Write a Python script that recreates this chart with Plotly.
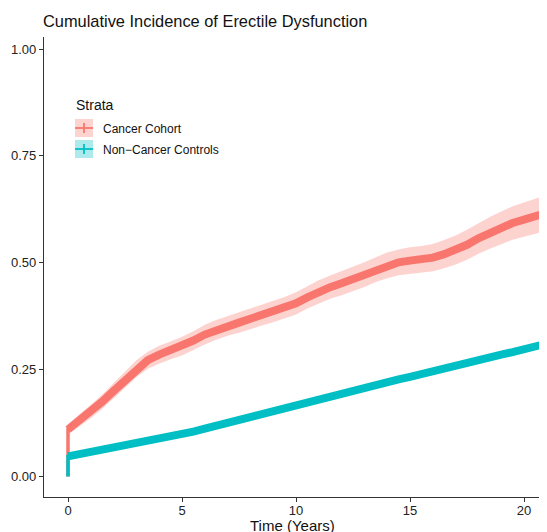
import plotly.graph_objects as go

# ---- data ----
time_years = [0.0, 0.5, 1.0, 1.5, 2.0, 2.5, 3.0, 3.5, 4.0, 4.5, 5.0, 5.5, 6.0, 6.5, 7.0,
              7.5, 8.0, 8.5, 9.0, 9.5, 10.0, 10.5, 11.0, 11.5, 12.0, 12.5, 13.0, 13.5,
              14.0, 14.5, 15.0, 15.5, 16.0, 16.5, 17.0, 17.5, 18.0, 18.5, 19.0, 19.5,
              20.0, 20.5, 21.0]

cancer_ci = [0.110, 0.130, 0.152, 0.175, 0.200, 0.225, 0.252, 0.272, 0.285, 0.295, 0.305,
             0.318, 0.332, 0.343, 0.352, 0.360, 0.369, 0.378, 0.386, 0.395, 0.405, 0.419,
             0.432, 0.443, 0.452, 0.462, 0.472, 0.484, 0.494, 0.501, 0.505, 0.508, 0.512,
             0.520, 0.530, 0.542, 0.557, 0.570, 0.582, 0.593, 0.601, 0.609, 0.617]
cancer_lower = [0.098, 0.116, 0.136, 0.158, 0.182, 0.206, 0.232, 0.252, 0.264, 0.274, 0.283,
                0.296, 0.309, 0.320, 0.329, 0.336, 0.345, 0.353, 0.361, 0.370, 0.379, 0.393,
                0.405, 0.416, 0.424, 0.434, 0.443, 0.455, 0.464, 0.471, 0.474, 0.477, 0.480,
                0.487, 0.496, 0.507, 0.521, 0.533, 0.544, 0.554, 0.561, 0.568, 0.575]
cancer_upper = [0.122, 0.144, 0.168, 0.192, 0.218, 0.244, 0.272, 0.292, 0.306, 0.316, 0.327,
                0.340, 0.355, 0.366, 0.375, 0.384, 0.393, 0.403, 0.411, 0.420, 0.431, 0.445,
                0.459, 0.470, 0.480, 0.490, 0.501, 0.513, 0.524, 0.531, 0.536, 0.539, 0.544,
                0.553, 0.564, 0.577, 0.593, 0.607, 0.620, 0.632, 0.641, 0.650, 0.659]

control_ci = [0.047, 0.052, 0.057, 0.063, 0.068, 0.074, 0.079, 0.084, 0.089, 0.094, 0.099,
              0.105, 0.112, 0.119, 0.125, 0.132, 0.139, 0.146, 0.152, 0.159, 0.166, 0.172,
              0.179, 0.186, 0.193, 0.201, 0.207, 0.214, 0.220, 0.227, 0.233, 0.240, 0.246,
              0.253, 0.259, 0.266, 0.272, 0.279, 0.285, 0.291, 0.297, 0.304, 0.311]
control_lower = [0.044, 0.049, 0.054, 0.060, 0.065, 0.071, 0.076, 0.080, 0.085, 0.090, 0.095,
                 0.101, 0.108, 0.115, 0.121, 0.128, 0.135, 0.141, 0.147, 0.154, 0.161, 0.167,
                 0.174, 0.181, 0.188, 0.196, 0.202, 0.208, 0.214, 0.221, 0.227, 0.234, 0.240,
                 0.247, 0.253, 0.259, 0.265, 0.272, 0.278, 0.283, 0.289, 0.296, 0.303]
control_upper = [0.050, 0.055, 0.060, 0.066, 0.071, 0.077, 0.082, 0.088, 0.093, 0.098, 0.103,
                 0.109, 0.116, 0.123, 0.129, 0.136, 0.143, 0.151, 0.157, 0.164, 0.171, 0.177,
                 0.184, 0.191, 0.198, 0.206, 0.212, 0.220, 0.226, 0.233, 0.239, 0.246, 0.252,
                 0.259, 0.265, 0.273, 0.279, 0.286, 0.292, 0.299, 0.305, 0.312, 0.319]

strata = ["Cancer Cohort", "Non\u2212Cancer Controls"]
x_ticks = [0, 5, 10, 15, 20]
y_ticks = [0.0, 0.25, 0.50, 0.75, 1.00]

title_text = "Cumulative Incidence of Erectile Dysfunction"
x_title = "Time (Years)"
legend_title = "Strata"

# ---- styling ----
RED = "#F8766D"
TEAL = "#00BFC4"
RED_BAND = "rgba(248,118,109,0.32)"
TEAL_BAND = "rgba(0,191,196,0.32)"
FONT = "Liberation Sans, Arial, sans-serif"

OFF = 8                      # page body margin of the html page
WIN_W, WIN_H = 547, 532
W, H = WIN_W - OFF, WIN_H - OFF
# plot area in window pixels (reference): left 44, top 37, bottom 497, right = window edge
PL, PT, PB = 44, 37, 497
ML, MR, MT, MB = PL - OFF, 0, PT - OFF, H - (PB - OFF)


def px(X):
    return (X - PL) / (WIN_W - PL)


def py(Y):
    return (PB - Y) / (PB - PT)


fig = go.Figure()

series = [
    (cancer_ci, cancer_lower, cancer_upper, RED, RED_BAND),
    (control_ci, control_lower, control_upper, TEAL, TEAL_BAND),
]

# confidence bands
for ci, lo, up, col, band in series:
    fig.add_trace(go.Scatter(x=time_years, y=up, mode="lines", line=dict(width=0, color=band),
                             hoverinfo="skip", showlegend=False))
    fig.add_trace(go.Scatter(x=time_years, y=lo, mode="lines", line=dict(width=0, color=band),
                             fill="tonexty", fillcolor=band, hoverinfo="skip", showlegend=False))

# curves: thin step from 0 at t=0, then the dense (censor-marked) thick curve
for (ci, lo, up, col, band), name in zip(series, strata):
    fig.add_trace(go.Scatter(x=[time_years[0]] + time_years, y=[0.0] + ci, mode="lines",
                             line=dict(width=3.5, color=col), showlegend=False, name=name))
    fig.add_trace(go.Scatter(x=time_years, y=ci, mode="lines",
                             line=dict(width=8, color=col), showlegend=False, name=name))

# ---- legend drawn by hand ----
shapes = []
annotations = []
leg_rows = [(128, RED, RED_BAND, strata[0]), (149, TEAL, TEAL_BAND, strata[1])]
for yc, col, band, label in leg_rows:
    shapes.append(dict(type="rect", xref="paper", yref="paper",
                       x0=px(75), x1=px(93), y0=py(yc + 9), y1=py(yc - 9),
                       fillcolor=band, line=dict(width=0), layer="above"))
    shapes.append(dict(type="line", xref="paper", yref="paper",
                       x0=px(75), x1=px(93), y0=py(yc), y1=py(yc),
                       line=dict(color=col, width=1.8), layer="above"))
    shapes.append(dict(type="line", xref="paper", yref="paper",
                       x0=px(84), x1=px(84), y0=py(yc + 5), y1=py(yc - 5),
                       line=dict(color=col, width=1.8), layer="above"))
    annotations.append(dict(text=label, xref="paper", yref="paper", x=px(101), y=py(yc + 0.5),
                            xanchor="left", yanchor="middle", showarrow=False,
                            font=dict(family=FONT, size=12, color="#111")))
annotations.append(dict(text=legend_title, xref="paper", yref="paper", x=px(73.5), y=py(104.5),
                        xanchor="left", yanchor="middle", showarrow=False,
                        font=dict(family=FONT, size=14, color="#111")))
annotations.append(dict(text=x_title, xref="paper", yref="paper", x=px(292.5), y=py(525),
                        xanchor="center", yanchor="middle", showarrow=False,
                        font=dict(family=FONT, size=15, color="#111")))

# data-to-pixel calibration of the reference axes (window pixels)
x0_pix, x_scale = 68.0, 22.8
y0_pix, y_scale = 476.5, 427.5

fig.update_layout(
    width=W, height=H, autosize=False,
    margin=dict(l=ML, r=MR, t=MT, b=MB, pad=0),
    paper_bgcolor="white", plot_bgcolor="white",
    title=dict(text=title_text, xref="container", yref="container",
               x=(43 - OFF) / W, xanchor="left", y=1 - (21 - OFF) / H, yanchor="middle",
               font=dict(family=FONT, size=16.4, color="#111")),
    shapes=shapes, annotations=annotations,
    showlegend=False,
    xaxis=dict(range=[(PL - x0_pix) / x_scale, (WIN_W - x0_pix) / x_scale],
               tickvals=x_ticks, ticktext=[str(v) for v in x_ticks],
               showline=True, linecolor="#333", linewidth=1.3,
               ticks="outside", ticklen=4, tickcolor="#333", tickwidth=1.2,
               ticklabelstandoff=-3,
               showgrid=False, zeroline=False,
               tickfont=dict(family=FONT, size=13, color="#222")),
    yaxis=dict(range=[(y0_pix - PB) / y_scale, (y0_pix - PT) / y_scale],
               tickvals=y_ticks, ticktext=["%.2f" % v for v in y_ticks],
               showline=True, linecolor="#333", linewidth=1.3,
               ticks="outside", ticklen=4, tickcolor="#333", tickwidth=1.2,
               showgrid=False, zeroline=False,
               tickfont=dict(family=FONT, size=13, color="#222")),
)

fig.write_html("out.html")
